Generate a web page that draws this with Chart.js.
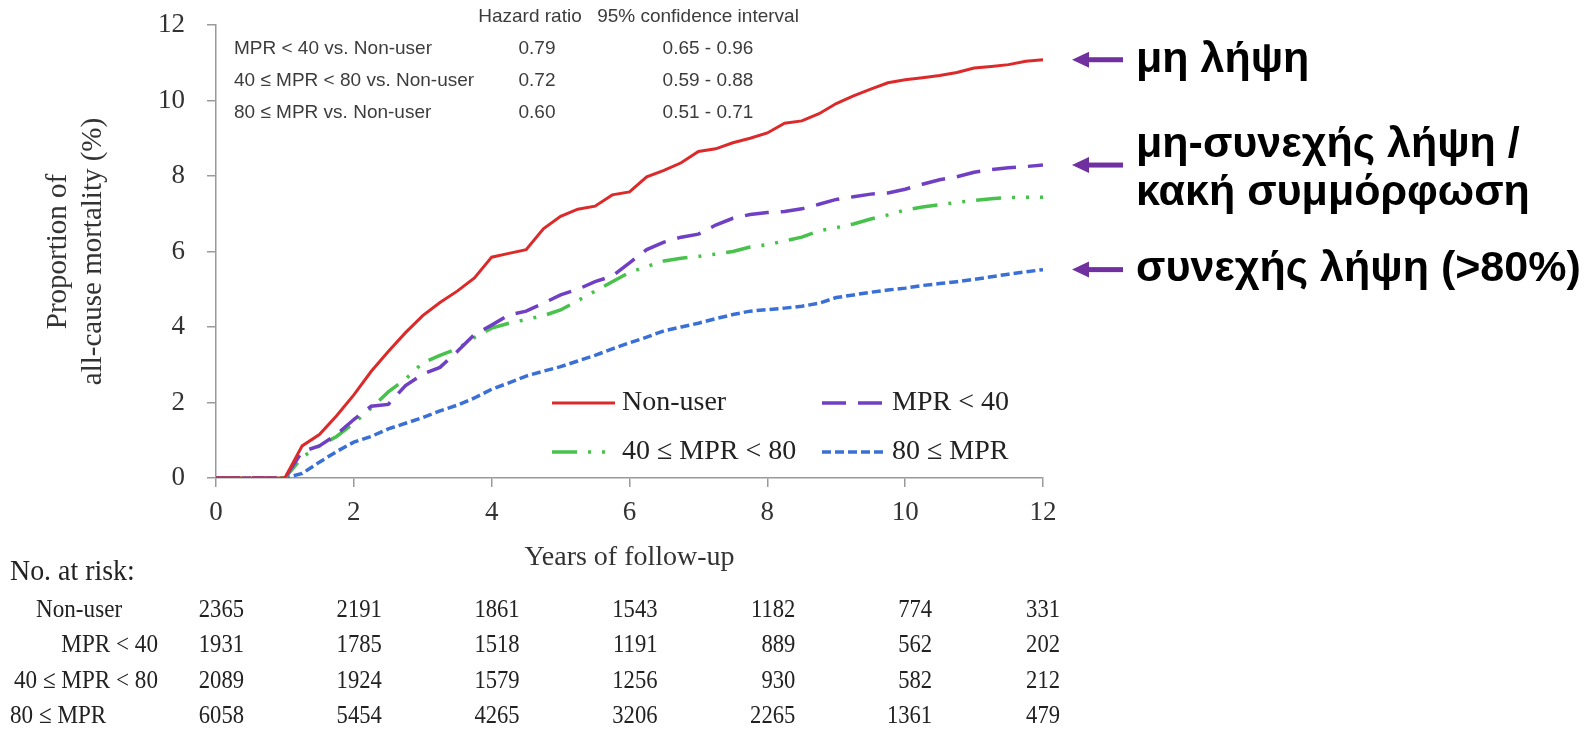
<!DOCTYPE html>
<html>
<head>
<meta charset="utf-8">
<title>All-cause mortality by MPR</title>
<script src="https://cdn.jsdelivr.net/npm/chart.js@4.4.0/dist/chart.umd.min.js"></script>
<style>
  html, body { margin: 0; padding: 0; background: #fff; overflow: hidden; }
  canvas { display: block; }
</style>
</head>
<body>
<canvas id="km" width="1593" height="731"></canvas>
<script>
// follow-up time grid (years), shared by the four curves
var years = [0, 1, 1.25, 1.5, 1.75, 2, 2.25, 2.5, 2.75, 3, 3.25, 3.5, 3.75, 4, 4.25, 4.5, 4.75,
  5, 5.25, 5.5, 5.75, 6, 6.25, 6.5, 6.75, 7, 7.25, 7.5, 7.75, 8, 8.25, 8.5, 8.75,
  9, 9.25, 9.5, 9.75, 10, 10.25, 10.5, 10.75, 11, 11.25, 11.5, 11.75, 12];

// cumulative all-cause mortality (%)
var nonUser = [0, 0, 0.85, 1.15, 1.65, 2.2, 2.82, 3.35, 3.85, 4.3, 4.65, 4.95, 5.3, 5.85, 5.95, 6.05, 6.6,
  6.93, 7.12, 7.2, 7.5, 7.58, 7.98, 8.15, 8.35, 8.65, 8.72, 8.88, 9.0, 9.14, 9.4, 9.46, 9.65,
  9.92, 10.12, 10.3, 10.47, 10.55, 10.6, 10.66, 10.74, 10.86, 10.9, 10.95, 11.04, 11.08];
var mprUnder40 = [0, 0, 0.7, 0.85, 1.15, 1.55, 1.9, 1.95, 2.45, 2.75, 2.93, 3.35, 3.8, 4.05, 4.32, 4.42, 4.63,
  4.85, 5.0, 5.2, 5.35, 5.7, 6.05, 6.25, 6.38, 6.46, 6.7, 6.88, 6.98, 7.03, 7.06, 7.13, 7.25,
  7.38, 7.45, 7.52, 7.55, 7.65, 7.78, 7.9, 7.98, 8.1, 8.17, 8.22, 8.25, 8.29];
var mpr40to80 = [0, 0, 0.55, 0.85, 1.1, 1.45, 1.85, 2.28, 2.62, 3.05, 3.25, 3.42, 3.72, 3.97, 4.1, 4.2, 4.3,
  4.45, 4.7, 4.95, 5.2, 5.45, 5.6, 5.75, 5.82, 5.87, 5.93, 6.0, 6.12, 6.18, 6.28, 6.38, 6.55,
  6.63, 6.73, 6.86, 6.97, 7.1, 7.18, 7.24, 7.3, 7.35, 7.4, 7.43, 7.44, 7.44];
var mprOver80 = [0, 0, 0.12, 0.42, 0.7, 0.95, 1.1, 1.3, 1.45, 1.6, 1.78, 1.93, 2.12, 2.35, 2.52, 2.7, 2.83,
  2.95, 3.1, 3.25, 3.42, 3.58, 3.73, 3.9, 4.0, 4.1, 4.22, 4.33, 4.42, 4.46, 4.5, 4.55, 4.63,
  4.78, 4.85, 4.92, 4.98, 5.03, 5.1, 5.15, 5.2, 5.26, 5.33, 5.4, 5.46, 5.52];

var seriesNames = ['Non-user', 'MPR < 40', '40 \u2264 MPR < 80', '80 \u2264 MPR'];

// hazard ratio box
var hrRows = ['MPR < 40 vs. Non-user', '40 \u2264 MPR < 80 vs. Non-user', '80 \u2264 MPR vs. Non-user'];
var hrValues = ['0.79', '0.72', '0.60'];
var hrIntervals = ['0.65 - 0.96', '0.59 - 0.88', '0.51 - 0.71'];

// numbers at risk
var riskYears = [0, 2, 4, 6, 8, 10, 12];
var riskNonUser = [2365, 2191, 1861, 1543, 1182, 774, 331];
var riskUnder40 = [1931, 1785, 1518, 1191, 889, 562, 202];
var risk40to80 = [2089, 1924, 1579, 1256, 930, 582, 212];
var riskOver80 = [6058, 5454, 4265, 3206, 2265, 1361, 479];

// side notes (greek), pointing to the end of non-user, MPR<40 and 80<=MPR curves
var noteLines = [['μη λήψη'], ['μη-συνεχής λήψη /', 'κακή συμμόρφωση'], ['συνεχής λήψη (>80%)']];
var noteSeries = [0, 1, 3];

var SERIF = '"Liberation Serif", "Times New Roman", serif';
var SANS = '"Liberation Sans", Arial, sans-serif';

function pts(vals) {
  return years.map(function (t, i) { return { x: t, y: vals[i] }; });
}

var curves = [
  { data: nonUser, color: '#dc2a2a', dash: [], width: 3 },
  { data: mprUnder40, color: '#7040c4', dash: [24, 12], width: 3.5 },
  { data: mpr40to80, color: '#48c24c', dash: [25, 11, 3, 11, 3, 11], width: 3.5 },
  { data: mprOver80, color: '#3a70d6', dash: [9, 4], width: 3.5 }
];

var datasets = curves.map(function (c, i) {
  return {
    label: seriesNames[i],
    data: pts(c.data),
    borderColor: c.color,
    backgroundColor: c.color,
    borderDash: c.dash,
    borderWidth: c.width,
    pointRadius: 0,
    tension: 0,
    fill: false
  };
});

// text a bit narrower than the font, like the scanned table
function narrowText(ctx, txt, x, y, squeeze) {
  ctx.fillText(txt, x, y, ctx.measureText(txt).width * squeeze);
}

// draws hazard ratio box, legend, risk table and side notes
var extras = {
  id: 'extras',
  afterDraw: function (chart) {
    var ctx = chart.ctx;
    var xs = chart.scales.x, ys = chart.scales.y;
    var area = chart.chartArea;
    ctx.save();

    // hazard ratio table
    ctx.fillStyle = '#3c3c3c';
    ctx.font = '19px ' + SANS;
    ctx.textBaseline = 'middle';
    ctx.textAlign = 'center';
    ctx.fillText('Hazard ratio', 530, 17);
    ctx.fillText('95% confidence interval', 698, 17);
    hrRows.forEach(function (r, i) {
      var y = 49 + i * 32;
      ctx.textAlign = 'left';
      ctx.fillText(r, 234, y);
      ctx.textAlign = 'center';
      ctx.fillText(hrValues[i], 537, y);
      ctx.fillText(hrIntervals[i], 708, y);
    });

    // legend, 2 x 2
    var colX = [552, 822], rowY = [403, 452];
    ctx.font = '28px ' + SERIF;
    datasets.forEach(function (ds, i) {
      var x0 = colX[i % 2], y = rowY[Math.floor(i / 2)];
      ctx.strokeStyle = ds.borderColor;
      ctx.lineWidth = ds.borderWidth;
      ctx.setLineDash(ds.borderDash);
      ctx.beginPath();
      ctx.moveTo(x0, y);
      ctx.lineTo(x0 + 63, y);
      ctx.stroke();
      ctx.setLineDash([]);
      ctx.fillStyle = '#222';
      ctx.textAlign = 'left';
      ctx.fillText(ds.label, x0 + 70, y);
    });

    // numbers at risk
    ctx.fillStyle = '#222';
    ctx.font = '30px ' + SERIF;
    ctx.textAlign = 'left';
    narrowText(ctx, 'No. at risk:', 10, 572, 0.93);
    var rows = [riskNonUser, riskUnder40, risk40to80, riskOver80];
    var rowLabelX = [[36, 'left'], [158, 'right'], [158, 'right'], [10, 'left']];
    var colOffset = [28, 28, 28, 28, 28, 27, 17];
    ctx.font = '26px ' + SERIF;
    rows.forEach(function (row, r) {
      var y = 610 + r * 35.5;
      ctx.textAlign = rowLabelX[r][1];
      narrowText(ctx, seriesNames[r], rowLabelX[r][0], y, 0.89);
      ctx.textAlign = 'right';
      row.forEach(function (n, c) {
        narrowText(ctx, String(n), xs.getPixelForValue(riskYears[c]) + colOffset[c], y, 0.87);
      });
    });

    // arrows and greek notes
    ctx.font = 'bold 43px ' + SANS;
    ctx.textAlign = 'left';
    noteSeries.forEach(function (s, k) {
      var vals = curves[s].data;
      var y = ys.getPixelForValue(vals[vals.length - 1]);
      var ax = area.right + 29, bx = area.right + 80;
      ctx.fillStyle = '#7030a0';
      ctx.fillRect(ax + 12, y - 2.5, bx - ax - 12, 5);
      ctx.beginPath();
      ctx.moveTo(ax, y);
      ctx.lineTo(ax + 17, y - 8);
      ctx.lineTo(ax + 17, y + 8);
      ctx.closePath();
      ctx.fill();
      ctx.fillStyle = '#000';
      var lines = noteLines[k];
      lines.forEach(function (t, j) {
        var ty = y + (j - (lines.length - 1) / 2) * 48 + (lines.length > 1 ? 4 : 0);
        ctx.fillText(t, area.right + 93, ty);
      });
    });

    ctx.restore();
  }
};

var axisColor = '#9a9a9a';

new Chart(document.getElementById('km'), {
  type: 'line',
  data: { datasets: datasets },
  plugins: [extras],
  options: {
    responsive: false,
    animation: false,
    layout: { padding: { top: 25, right: 550, bottom: 153, left: 0 } },
    plugins: { legend: { display: false }, tooltip: { enabled: false } },
    scales: {
      x: {
        type: 'linear',
        min: 0,
        max: 12,
        afterFit: function (s) { s.height = 100; s.paddingLeft = 0; s.paddingRight = 0; },
        ticks: { stepSize: 2, padding: 10, color: '#333', font: { family: SERIF, size: 27 } },
        grid: { drawOnChartArea: false, drawTicks: true, tickLength: 9, color: axisColor, lineWidth: 1.5 },
        border: { display: true, color: axisColor, width: 1.5 },
        title: {
          display: true,
          text: 'Years of follow-up',
          color: '#333',
          font: { family: SERIF, size: 28 },
          padding: { top: 0, bottom: 4 }
        }
      },
      y: {
        min: 0,
        max: 12,
        afterFit: function (s) { s.width = 216; s.paddingTop = 0; s.paddingBottom = 0; },
        ticks: { stepSize: 2, padding: 22, color: '#333', font: { family: SERIF, size: 27 } },
        grid: { drawOnChartArea: false, drawTicks: true, tickLength: 9, color: axisColor, lineWidth: 1.5 },
        border: { display: true, color: axisColor, width: 1.5 },
        title: {
          display: true,
          text: ['Proportion of', 'all-cause mortality (%)'],
          color: '#333',
          font: { family: SERIF, size: 29, lineHeight: 1.2 },
          padding: { top: 41, bottom: 0 }
        }
      }
    }
  }
});
</script>
</body>
</html>
